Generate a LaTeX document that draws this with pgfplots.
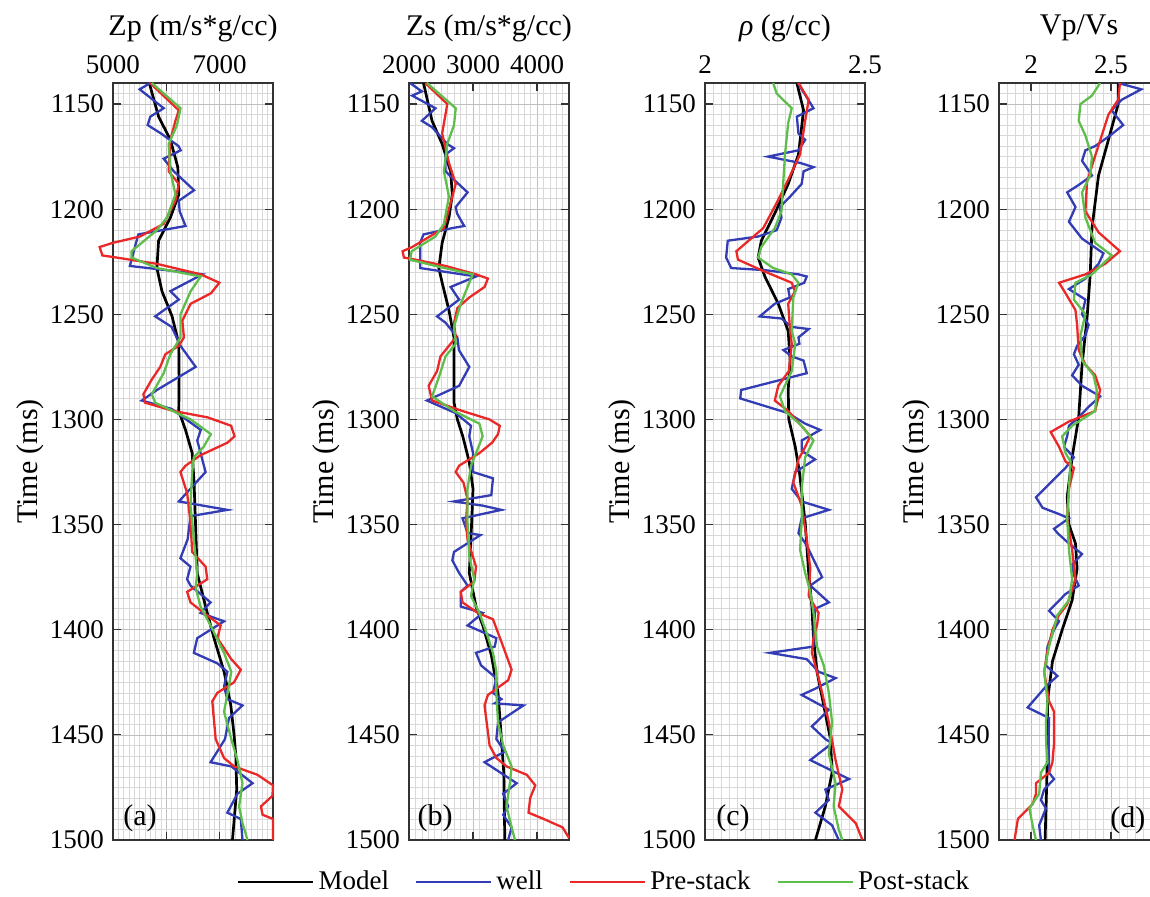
\documentclass[border=0pt]{standalone}
\usepackage{pgfplots}
\pgfplotsset{compat=1.18}
\usepackage{fontspec}
\setmainfont{Liberation Serif}

\definecolor{wellblue}{RGB}{50,60,180}
\definecolor{prered}{RGB}{235,40,40}
\definecolor{postgreen}{RGB}{95,190,75}

\pgfplotsset{
  panel/.style={
    scale only axis, width=80pt, height=378.5pt,
    y dir=reverse, ymin=1140, ymax=1500,
    ytick={1150,1200,...,1500},
    minor ytick={1140,1145,...,1500},
    xticklabel pos=right,
    tick align=inside, major tick length=4pt, minor tick length=0pt,
    grid=both,
    major grid style={gray!50, line width=0.35pt},
    minor grid style={gray!30, line width=0.3pt},
    axis line style={line width=0.7pt, black!80},
    every tick/.style={black!80, line width=0.6pt},
    tick label style={font=\fontsize{13.5}{15}\selectfont},
    xticklabel style={yshift=1pt},
    yticklabel style={xshift=-1pt},
    label style={font=\fontsize{15}{17}\selectfont},
    every axis title shift=0pt,
    title style={font=\fontsize{15}{17}\selectfont, at={(axis description cs:0.5,1.0727)}, anchor=center},
    ylabel={Time (ms)},
    ylabel style={at={(axis description cs:-0.519,0.5)}, anchor=center},
    /pgf/number format/1000 sep={},
    /pgf/number format/assume math mode=true,
    scaled x ticks=false,
  },
  model/.style={black, line width=1.35pt},
  well/.style={wellblue, line width=1.15pt},
  pre/.style={prered, line width=1.15pt},
  post/.style={postgreen, line width=1.15pt},
}

\begin{document}
\begin{tikzpicture}
\path[use as bounding box] (0pt,0pt) rectangle (575pt,-448.5pt);

% ---------------- (a) P-impedance ----------------
\begin{axis}[panel, at={(56.5pt,-41.5pt)}, anchor=north west, clip=false,
  xmin=5000, xmax=8000, xtick={5000,6000,7000,8000}, xticklabels={5000,,7000,},
  minor xtick={5000,5100,...,8000},
  title={Zp (m/s*g/cc)},
  legend columns=4,
  legend style={at={(3.075,-0.0555)}, anchor=center, draw=none, fill=none,
    font=\fontsize{13.5}{15}\selectfont,
    /tikz/every even column/.append style={column sep=11pt}},
  legend image code/.code={\draw[#1] (0pt,0pt) -- (37.5pt,0pt);},
]
\addplot[model] coordinates {(5680,1140) (5855,1156) (6076,1167) (6215,1180) (6234,1193) (6076,1204) (5855,1215) (5823,1228) (5918,1239) (6108,1251) (6234,1264) (6240,1280) (6234,1296) (6360,1305) (6485,1316) (6520,1330) (6547,1349) (6579,1373) (6737,1389) (6894,1404) (7083,1420) (7209,1436) (7270,1450) (7303,1460) (7320,1476) (7240,1500)};
\addlegendentry{Model}
\addplot[well] coordinates {(5700,1140) (5500,1143) (5950,1152) (5700,1156) (5650,1160) (5900,1164) (6230,1170) (6270,1172) (5950,1176) (6140,1182) (6520,1191) (6234,1196) (6250,1201) (6360,1208) (6140,1209) (5475,1212) (5316,1227) (6677,1231) (6076,1239) (6234,1243) (5791,1251) (6100,1256) (6266,1265) (6550,1275) (5823,1286) (5540,1291) (6100,1295) (6646,1305) (6580,1310) (6736,1325) (6235,1339) (7145,1343) (6453,1346) (6400,1357) (6264,1366) (6453,1370) (6390,1376) (6453,1379) (6830,1387) (6642,1392) (7082,1396) (6580,1404) (6516,1411) (6957,1416) (7145,1420) (7082,1427) (7145,1433) (7428,1436) (7175,1442) (7100,1452) (6830,1463) (7218,1465) (7617,1473) (7333,1478) (7145,1487) (7396,1490) (7428,1500)};
\addlegendentry{well}
\addplot[pre] coordinates {(5696,1140) (6234,1153) (6170,1158) (6076,1167) (6044,1182) (6234,1188) (6170,1196) (5950,1207) (5506,1213) (5000,1216) (4750,1218) (4800,1222) (5063,1223) (5823,1226) (6646,1231) (6994,1235) (6836,1240) (6456,1245) (6300,1253) (6330,1261) (6234,1265) (5981,1269) (5886,1275) (5728,1281) (5570,1288) (5600,1292) (6140,1296) (6772,1299) (7215,1303) (7279,1308) (7150,1311) (6642,1317) (6360,1322) (6264,1325) (6390,1335) (6453,1349) (6485,1363) (6736,1370) (6768,1376) (6580,1379) (6390,1382) (6453,1387) (6705,1392) (7019,1398) (6957,1404) (7218,1414) (7396,1419) (7270,1425) (6957,1430) (6862,1434) (6925,1452) (7082,1461) (7270,1465) (7710,1469) (8000,1474) (7990,1479) (7774,1484) (7805,1488) (8000,1490) (8000,1500)};
\addlegendentry{Pre-stack}
\addplot[post] coordinates {(5728,1140) (6266,1152) (6200,1160) (6044,1169) (6076,1182) (6171,1193) (6013,1204) (5823,1210) (5348,1220) (5348,1223) (5823,1228) (6646,1232) (6456,1239) (6266,1250) (6266,1261) (6076,1269) (5950,1278) (5728,1288) (5790,1292) (6456,1300) (6836,1307) (6700,1313) (6516,1318) (6485,1325) (6453,1341) (6516,1357) (6580,1373) (6550,1380) (6642,1389) (6830,1398) (7082,1411) (7218,1420) (7150,1430) (7082,1439) (7218,1452) (7333,1462) (7428,1473) (7365,1484) (7428,1492) (7522,1500)};
\addlegendentry{Post-stack}
\node[font=\fontsize{15}{17}\selectfont] at (axis description cs:0.169,0.029) {(a)};
\end{axis}

% ---------------- (b) S-impedance ----------------
\begin{axis}[panel, at={(204.5pt,-41.5pt)}, anchor=north west, clip=false,
  xmin=2000, xmax=4500, xtick={2000,3000,4000},
  minor xtick={2000,2100,...,4500},
  title={Zs (m/s*g/cc)},
]
\addplot[model] coordinates {(2227,1140) (2360,1158) (2518,1169) (2650,1182) (2677,1193) (2624,1204) (2518,1216) (2466,1228) (2518,1235) (2624,1248) (2703,1261) (2703,1277) (2703,1292) (2756,1300) (2840,1308) (2940,1320) (3000,1333) (2968,1357) (2942,1373) (3047,1389) (3153,1398) (3286,1412) (3391,1430) (3444,1452) (3481,1468) (3497,1500)};
\addplot[well] coordinates {(2016,1140) (2200,1144) (2050,1146) (2413,1152) (2201,1158) (2360,1161) (2598,1169) (2703,1171) (2571,1174) (2571,1182) (2703,1186) (2915,1192) (2730,1199) (2750,1202) (2862,1208) (2677,1209) (2227,1212) (2175,1216) (2175,1228) (3047,1232) (2650,1237) (2783,1243) (2439,1251) (2571,1254) (2756,1261) (2780,1267) (2942,1275) (2783,1284) (2280,1291) (2730,1297) (2968,1303) (2942,1308) (3000,1316) (3000,1325) (3312,1328) (3286,1336) (2703,1339) (3153,1341) (3444,1343) (2836,1347) (2915,1354) (3116,1355) (2703,1363) (2677,1367) (2783,1373) (2915,1379) (2809,1382) (2809,1389) (3153,1392) (2915,1398) (3365,1404) (3340,1408) (3047,1411) (3127,1417) (3365,1423) (3312,1430) (3444,1433) (3340,1435) (3788,1436) (3391,1444) (3365,1452) (3497,1458) (3180,1463) (3682,1473) (3471,1478) (3550,1484) (3471,1488) (3603,1494) (3550,1500)};
\addplot[pre] coordinates {(2254,1140) (2598,1150) (2570,1155) (2518,1164) (2624,1178) (2730,1188) (2650,1197) (2545,1209) (2050,1218) (1900,1220) (1920,1223) (2100,1224) (2571,1227) (3047,1231) (3233,1233) (3180,1237) (2942,1242) (2756,1247) (2703,1254) (2730,1261) (2624,1265) (2492,1270) (2439,1277) (2307,1284) (2360,1291) (2836,1296) (3259,1300) (3418,1303) (3391,1307) (3300,1311) (3100,1316) (2783,1322) (2730,1325) (2850,1330) (2915,1338) (2889,1349) (2915,1357) (3047,1370) (3020,1377) (2809,1382) (2836,1387) (3074,1392) (3312,1395) (3471,1408) (3603,1419) (3550,1424) (3233,1431) (3180,1436) (3259,1455) (3365,1461) (3524,1465) (3841,1469) (3973,1474) (3894,1480) (3867,1487) (4105,1490) (4400,1494) (4500,1499)};
\addplot[post] coordinates {(2280,1140) (2730,1152) (2703,1160) (2598,1169) (2545,1182) (2624,1194) (2545,1207) (2413,1213) (2042,1220) (2016,1224) (2413,1227) (2995,1231) (2915,1237) (2809,1245) (2703,1256) (2730,1264) (2571,1270) (2466,1280) (2360,1289) (2703,1296) (3100,1302) (3150,1308) (3074,1314) (2968,1322) (2915,1333) (2915,1349) (2942,1365) (3020,1376) (2968,1384) (3100,1392) (3206,1401) (3312,1411) (3365,1420) (3365,1430) (3391,1444) (3471,1455) (3603,1465) (3576,1473) (3524,1484) (3603,1494) (3656,1500)};
\node[font=\fontsize{15}{17}\selectfont] at (axis description cs:0.163,0.029) {(b)};
\end{axis}

% ---------------- (c) density ----------------
\begin{axis}[panel, at={(352.5pt,-41.5pt)}, anchor=north west,
  xmin=2, xmax=2.5, xtick={2,2.5},
  minor xtick={2,2.025,...,2.5},
  title={\textit{ρ} (g/cc)},
]
\addplot[model] coordinates {(2.287,1140) (2.308,1153) (2.292,1174) (2.260,1188) (2.218,1202) (2.176,1215) (2.166,1223) (2.187,1232) (2.229,1245) (2.260,1258) (2.266,1272) (2.260,1286) (2.262,1300) (2.282,1313) (2.295,1325) (2.313,1349) (2.324,1373) (2.334,1389) (2.339,1404) (2.350,1420) (2.371,1436) (2.392,1452) (2.397,1468) (2.376,1484) (2.345,1500)};
\addplot[well] coordinates {(2.290,1140) (2.339,1152) (2.287,1156) (2.292,1164) (2.313,1167) (2.292,1172) (2.197,1175) (2.297,1178) (2.339,1180) (2.308,1182) (2.302,1188) (2.266,1194) (2.234,1199) (2.239,1204) (2.224,1210) (2.166,1213) (2.071,1215) (2.066,1223) (2.082,1228) (2.187,1229) (2.292,1231) (2.318,1232) (2.310,1235) (2.260,1238) (2.265,1242) (2.218,1245) (2.171,1251) (2.239,1252) (2.271,1256) (2.324,1257) (2.292,1261) (2.295,1264) (2.245,1267) (2.271,1270) (2.308,1272) (2.318,1278) (2.113,1286) (2.110,1290) (2.260,1297) (2.313,1302) (2.360,1305) (2.302,1310) (2.302,1315) (2.344,1319) (2.282,1325) (2.271,1333) (2.302,1339) (2.387,1343) (2.302,1347) (2.292,1354) (2.318,1360) (2.366,1375) (2.329,1379) (2.387,1387) (2.345,1390) (2.340,1398) (2.339,1408) (2.203,1411) (2.318,1414) (2.355,1420) (2.408,1423) (2.345,1428) (2.302,1431) (2.387,1438) (2.334,1446) (2.376,1452) (2.397,1454) (2.329,1462) (2.450,1471) (2.376,1476) (2.387,1481) (2.345,1487) (2.397,1493) (2.418,1500)};
\addplot[pre] coordinates {(2.292,1140) (2.324,1148) (2.313,1158) (2.297,1174) (2.260,1186) (2.224,1197) (2.182,1209) (2.098,1220) (2.103,1224) (2.176,1229) (2.271,1235) (2.281,1239) (2.260,1245) (2.266,1258) (2.271,1264) (2.262,1277) (2.229,1284) (2.218,1291) (2.260,1296) (2.313,1305) (2.329,1308) (2.310,1314) (2.292,1319) (2.276,1330) (2.302,1341) (2.318,1357) (2.329,1371) (2.324,1384) (2.355,1392) (2.350,1398) (2.339,1404) (2.334,1411) (2.350,1420) (2.366,1430) (2.387,1444) (2.408,1462) (2.429,1476) (2.418,1484) (2.471,1492) (2.492,1500)};
\addplot[post] coordinates {(2.213,1140) (2.224,1145) (2.271,1152) (2.260,1159) (2.250,1174) (2.245,1186) (2.239,1201) (2.218,1209) (2.176,1218) (2.166,1223) (2.213,1228) (2.271,1231) (2.292,1235) (2.276,1242) (2.271,1258) (2.282,1264) (2.271,1277) (2.234,1289) (2.250,1296) (2.302,1303) (2.339,1310) (2.313,1318) (2.302,1333) (2.302,1349) (2.297,1362) (2.313,1373) (2.329,1382) (2.339,1392) (2.345,1401) (2.350,1408) (2.371,1417) (2.387,1430) (2.397,1444) (2.387,1459) (2.408,1473) (2.402,1484) (2.418,1495) (2.429,1500)};
\node[font=\fontsize{15}{17}\selectfont] at (axis description cs:0.175,0.029) {(c)};
\end{axis}

% ---------------- (d) velocity ratio ----------------
\begin{axis}[panel, at={(499.5pt,-41.5pt)}, anchor=north west,
  xmin=1.8, xmax=2.8, xtick={2,2.5},
  minor xtick={1.8,1.85,...,2.8},
  title={Vp/Vs},
]
\addplot[model] coordinates {(2.545,1140) (2.545,1150) (2.484,1167) (2.422,1184) (2.381,1209) (2.370,1231) (2.350,1252) (2.319,1274) (2.298,1299) (2.257,1318) (2.226,1337) (2.237,1350) (2.278,1359) (2.288,1371) (2.257,1386) (2.195,1400) (2.134,1415) (2.103,1434) (2.103,1449) (2.100,1468) (2.088,1500)};
\addplot[well] coordinates {(2.545,1140) (2.689,1143) (2.566,1148) (2.504,1153) (2.576,1160) (2.494,1165) (2.401,1170) (2.340,1172) (2.319,1177) (2.381,1184) (2.288,1189) (2.226,1192) (2.278,1199) (2.237,1206) (2.319,1214) (2.453,1221) (2.422,1226) (2.340,1233) (2.237,1238) (2.340,1243) (2.319,1250) (2.360,1255) (2.340,1260) (2.288,1265) (2.268,1269) (2.298,1274) (2.257,1279) (2.319,1284) (2.432,1289) (2.360,1294) (2.298,1299) (2.237,1303) (2.226,1308) (2.206,1313) (2.268,1318) (2.216,1323) (2.031,1337) (2.072,1342) (2.175,1345) (2.237,1347) (2.144,1352) (2.165,1354) (2.237,1359) (2.319,1364) (2.257,1369) (2.268,1374) (2.298,1379) (2.216,1383) (2.113,1391) (2.175,1396) (2.144,1400) (2.103,1408) (2.093,1417) (2.165,1422) (2.093,1427) (1.979,1437) (2.113,1442) (2.110,1451) (2.113,1468) (2.144,1471) (2.082,1476) (2.062,1481) (2.093,1485) (2.051,1493) (2.062,1500)};
\addplot[pre] coordinates {(2.556,1140) (2.545,1148) (2.484,1155) (2.442,1165) (2.391,1177) (2.350,1187) (2.340,1201) (2.422,1211) (2.556,1220) (2.463,1226) (2.340,1231) (2.175,1235) (2.216,1240) (2.278,1248) (2.288,1255) (2.298,1267) (2.340,1274) (2.401,1279) (2.432,1286) (2.401,1296) (2.237,1301) (2.123,1306) (2.175,1313) (2.216,1320) (2.268,1323) (2.237,1333) (2.226,1347) (2.257,1362) (2.278,1376) (2.226,1388) (2.175,1393) (2.134,1400) (2.103,1410) (2.082,1420) (2.113,1434) (2.144,1439) (2.144,1454) (2.134,1463) (2.113,1468) (2.031,1473) (2.031,1478) (2.010,1483) (1.918,1490) (1.897,1500)};
\addplot[post] coordinates {(2.432,1140) (2.381,1146) (2.309,1150) (2.298,1158) (2.340,1165) (2.381,1175) (2.370,1184) (2.319,1192) (2.340,1204) (2.401,1216) (2.504,1222) (2.381,1231) (2.278,1235) (2.268,1243) (2.340,1250) (2.309,1260) (2.319,1272) (2.391,1279) (2.411,1286) (2.401,1296) (2.257,1303) (2.195,1308) (2.216,1316) (2.247,1320) (2.237,1333) (2.226,1347) (2.237,1362) (2.257,1376) (2.237,1386) (2.165,1393) (2.113,1408) (2.082,1420) (2.103,1434) (2.093,1444) (2.095,1454) (2.103,1463) (2.062,1468) (2.051,1478) (1.990,1485) (2.010,1493) (2.031,1500)};
\node[font=\fontsize{15}{17}\selectfont] at (axis description cs:0.806,0.026) {(d)};
\end{axis}
\end{tikzpicture}
\end{document}
